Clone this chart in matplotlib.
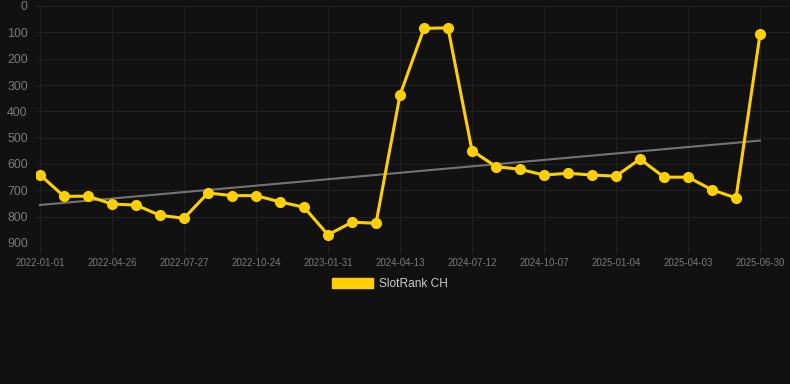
import numpy as np
import matplotlib
matplotlib.use("Agg")
import matplotlib.pyplot as plt
from matplotlib.patches import Patch

tick_labels = ["2022-01-01", "2022-04-26", "2022-07-27", "2022-10-24", "2023-01-31",
               "2024-04-13", "2024-07-12", "2024-10-07", "2025-01-04", "2025-04-03",
               "2025-06-30"]
ranks = [641, 723, 722, 752, 756, 795, 806, 710, 720, 720, 744, 764, 869, 821, 825,
         338, 85, 83, 549, 610, 620, 642, 635, 642, 646, 581, 650, 650, 698, 729, 108]
series_name = "SlotRank CH"

plt.rcParams["font.family"] = ["Liberation Sans", "DejaVu Sans"]

bg = "#111111"
grid_c = "#202020"
gold = "#FFD000"
lab_c = "#7a7a7a"

fig = plt.figure(figsize=(7.9, 3.84), dpi=100, facecolor=bg)
ax = fig.add_axes([36/790, (384-243)/384, (790-36)/790, (243-6)/384], facecolor=bg)

x = np.arange(len(ranks))
coef = np.polyfit(x, ranks, 1)
ax.plot(x, np.polyval(coef, x), color="#737373", lw=1.5, zorder=2)
ax.plot(x, ranks, color=gold, lw=2.2, marker="o", ms=7, zorder=3)

ax.set_xlim(-4/24, 750/24)
ax.set_ylim(900, 0)
ax.set_yticks(range(0, 901, 100))
ax.set_xticks(x[::3])
ax.set_xticklabels(tick_labels)
ax.grid(True, color=grid_c, lw=0.8)
for s in ax.spines.values():
    s.set_visible(False)
ax.tick_params(axis="y", length=0, pad=6, labelsize=8.9, labelcolor=lab_c)
ax.tick_params(axis="x", length=8, color=grid_c, pad=3, labelsize=6.9, labelcolor=lab_c)

fig.legend(handles=[Patch(facecolor=gold, edgecolor=gold)], labels=[series_name],
           loc="center", bbox_to_anchor=(390/790, 1 - 284/384), frameon=False,
           handlelength=3.4, handleheight=0.95, fontsize=8.6, labelcolor="#cccccc",
           handletextpad=0.5)

fig.savefig("out.png", dpi=100, facecolor=bg)
